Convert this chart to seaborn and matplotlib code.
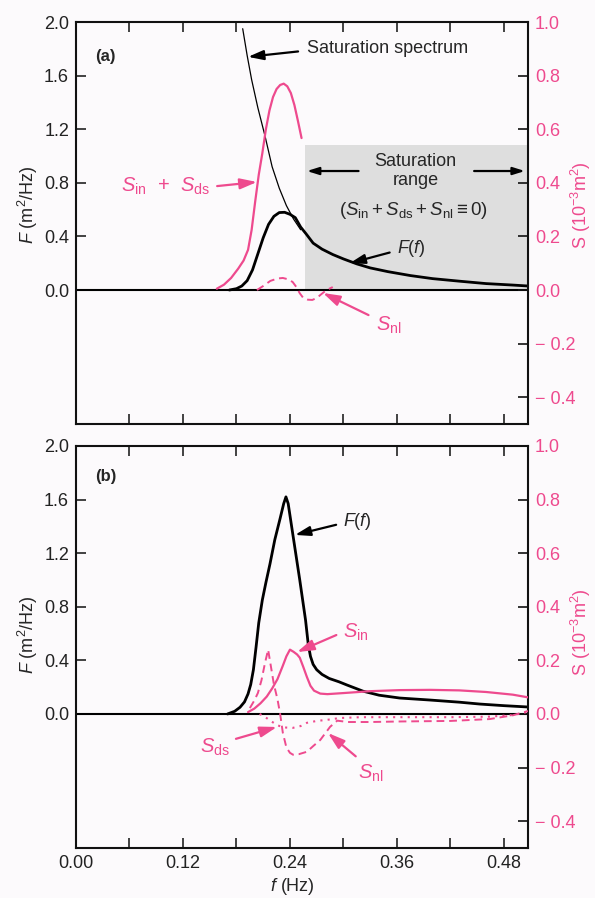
import numpy as np
import pandas as pd
import seaborn as sns
import matplotlib.pyplot as plt

PINK = '#ee4a8e'

# ---- panel (a) ----
a_sat_f = [0.187, 0.192, 0.197, 0.204, 0.212, 0.220, 0.228, 0.236, 0.244, 0.252]
a_sat_F = [1.95, 1.75, 1.57, 1.36, 1.15, 0.92, 0.76, 0.63, 0.53, 0.45]

a_F_f = [0.172, 0.180, 0.186, 0.192, 0.198, 0.204, 0.210, 0.216, 0.222, 0.228, 0.234,
         0.240, 0.246, 0.252, 0.258, 0.266, 0.276, 0.288, 0.300, 0.315, 0.330, 0.350,
         0.375, 0.400, 0.430, 0.460, 0.490, 0.507]
a_F = [0.0, 0.01, 0.03, 0.07, 0.15, 0.27, 0.39, 0.49, 0.55, 0.578, 0.58,
       0.565, 0.54, 0.47, 0.42, 0.35, 0.305, 0.265, 0.232, 0.195, 0.165, 0.137,
       0.108, 0.085, 0.066, 0.048, 0.037, 0.03]

a_sinds_f = [0.158, 0.166, 0.174, 0.182, 0.188, 0.193, 0.197, 0.201, 0.205, 0.209, 0.213,
             0.217, 0.221, 0.225, 0.229, 0.233, 0.237, 0.241, 0.245, 0.249, 0.253]
a_sinds = [0.005, 0.02, 0.045, 0.08, 0.11, 0.15, 0.224, 0.33, 0.43, 0.51, 0.60,
           0.67, 0.72, 0.75, 0.765, 0.77, 0.76, 0.735, 0.69, 0.63, 0.567]

a_snl_f = [0.203, 0.210, 0.218, 0.226, 0.232, 0.238, 0.243, 0.247, 0.251, 0.255,
           0.260, 0.265, 0.270, 0.275, 0.281, 0.288]
a_snl = [0.0, 0.015, 0.034, 0.043, 0.045, 0.04, 0.03, 0.012, -0.012, -0.03,
         -0.036, -0.037, -0.03, -0.016, 0.0, 0.011]

# ---- panel (b) ----
b_F_f = [0.170, 0.178, 0.184, 0.189, 0.193, 0.196, 0.199, 0.202, 0.205, 0.209, 0.213,
         0.2176, 0.223, 0.229, 0.233, 0.2355, 0.238, 0.243, 0.251, 0.2575, 0.2605, 0.263,
         0.266, 0.270, 0.276, 0.284, 0.295, 0.304, 0.322, 0.340, 0.363, 0.397, 0.430,
         0.453, 0.480, 0.507]
b_F = [0.0, 0.02, 0.05, 0.09, 0.15, 0.22, 0.33, 0.50, 0.68, 0.85, 0.98,
       1.12, 1.30, 1.46, 1.57, 1.62, 1.57, 1.35, 1.0, 0.70, 0.52, 0.43,
       0.37, 0.33, 0.295, 0.265, 0.24, 0.216, 0.17, 0.14, 0.119, 0.104, 0.088,
       0.074, 0.062, 0.052]

b_sin_f = [0.193, 0.200, 0.207, 0.214, 0.220, 0.226, 0.232, 0.236, 0.240, 0.244, 0.248,
           0.251, 0.255, 0.259, 0.263, 0.267, 0.274, 0.282, 0.300, 0.330, 0.363, 0.397,
           0.430, 0.460, 0.490, 0.507]
b_sin = [0.007, 0.02, 0.04, 0.065, 0.095, 0.13, 0.18, 0.215, 0.24, 0.232, 0.222,
         0.21, 0.175, 0.138, 0.105, 0.087, 0.076, 0.074, 0.078, 0.085, 0.089, 0.09,
         0.088, 0.082, 0.072, 0.062]

b_snl_f = [0.195, 0.200, 0.204, 0.208, 0.212, 0.2155, 0.219, 0.222, 0.226, 0.229, 0.232,
           0.236, 0.240, 0.2434, 0.250, 0.259, 0.266, 0.274, 0.285, 0.293, 0.305, 0.330,
           0.363, 0.420, 0.464, 0.490, 0.507]
b_snl = [0.022, 0.05, 0.078, 0.125, 0.19, 0.24, 0.17, 0.11, 0.055, 0.0, -0.07,
         -0.125, -0.145, -0.152, -0.15, -0.141, -0.12, -0.097, -0.048, -0.025, -0.03, -0.03,
         -0.028, -0.026, -0.019, -0.005, 0.011]

b_sds_f = [0.206, 0.212, 0.218, 0.2254, 0.232, 0.243, 0.252, 0.259, 0.270, 0.2815,
           0.296, 0.320, 0.363, 0.420, 0.464, 0.490, 0.507]
b_sds = [0.0, -0.011, -0.025, -0.041, -0.05, -0.052, -0.045, -0.033, -0.026, -0.022,
         -0.015, -0.012, -0.012, -0.012, -0.01, -0.004, 0.008]

# ticks
x_ticks = [0.0, 0.06, 0.12, 0.18, 0.24, 0.30, 0.36, 0.42, 0.48]
x_labels = ['0.00', '', '0.12', '', '0.24', '', '0.36', '', '0.48']
F_ticks = [0.0, 0.4, 0.8, 1.2, 1.6, 2.0]
F_labels = ['0.0', '0.4', '0.8', '1.2', '1.6', '2.0']
S_ticks = [-0.4, -0.2, 0.0, 0.2, 0.4, 0.6, 0.8, 1.0]
S_labels = ['\u2212 0.4', '\u2212 0.2', '0.0', '0.2', '0.4', '0.6', '0.8', '1.0']

sns.set_style('ticks')
plt.rcParams['font.family'] = ['Liberation Sans', 'DejaVu Sans']
plt.rcParams['mathtext.fontset'] = 'custom'
plt.rcParams['mathtext.rm'] = 'Liberation Sans'
plt.rcParams['mathtext.it'] = 'Liberation Sans:italic'
plt.rcParams['mathtext.bf'] = 'Liberation Sans:bold'

fig = plt.figure(figsize=(5.95, 8.98), dpi=100)
fig.patch.set_facecolor('#fcfafc')

arrow_k = dict(arrowstyle='-|>,head_length=0.7,head_width=0.22', color='black', lw=1.6,
               shrinkA=1, shrinkB=0)
arrow_p = dict(arrow_k, color=PINK)


def setup(ax, bottom):
    ax.set_facecolor('#fcfafc')
    ax.set_xlim(0, 0.507)
    ax.set_ylim(-1.0, 2.0)
    ax.set_xticks(x_ticks)
    ax.set_xticklabels(x_labels if bottom else [''] * len(x_ticks))
    ax.set_yticks(F_ticks)
    ax.set_yticklabels(F_labels)
    ax.tick_params(direction='in', length=7, width=1.2, top=True, right=False,
                   labelsize=13, pad=5, colors='#222222')
    for s in ax.spines.values():
        s.set_linewidth(1.5)
        s.set_color('#111111')
        s.set_visible(True)
    ax.axhline(0, color='black', lw=1.5)
    ax.set_ylabel('$F$ (m$^2$/Hz)', fontsize=13)
    ax2 = ax.twinx()
    ax2.set_ylim(-0.5, 1.0)
    ax2.set_yticks(S_ticks)
    ax2.set_yticklabels(S_labels)
    ax2.tick_params(direction='in', length=7, width=1.2, labelsize=13, pad=5,
                    labelcolor=PINK, color='#111111')
    for s in ax2.spines.values():
        s.set_visible(False)
    ax2.set_ylabel('S (10$^{-3}$m$^2$)', fontsize=13, color=PINK)
    return ax2


# ---------------- (a) ----------------
axa = fig.add_axes([0.1277, 0.5278, 0.7597, 0.4477])
axa2 = setup(axa, False)
axa.yaxis.set_label_coords(-0.08, 0.545)
axa2.yaxis.set_label_coords(1.09, 0.545)

axa.axvspan(0.257, 0.507, ymin=1/3, ymax=(1.08 + 1) / 3, color='#dedede', lw=0, zorder=0)
sns.lineplot(x=a_sat_f, y=a_sat_F, ax=axa, color='black', linewidth=0.9, estimator=None, sort=False)
sns.lineplot(x=a_F_f, y=a_F, ax=axa, color='black', linewidth=2.0, estimator=None, sort=False)
sns.lineplot(x=a_sinds_f, y=a_sinds, ax=axa2, color=PINK, linewidth=1.6, estimator=None, sort=False)
sns.lineplot(x=a_snl_f, y=a_snl, ax=axa2, color=PINK, linewidth=1.4, linestyle=(0, (4, 2.5)),
             estimator=None, sort=False)

axa.text(0.066, 0.915, '(a)', transform=axa.transAxes, fontsize=12, fontweight='bold',
         ha='center', va='center')
axa.annotate('Saturation spectrum', xy=(0.193, 1.74), xytext=(0.259, 1.80), fontsize=13,
             ha='left', va='center', arrowprops=dict(arrow_k, relpos=(0, 0.4), shrinkA=4))
axa.text(0.381, 0.888, 'Saturation\nrange', fontsize=13, ha='center', va='center',
         linespacing=1.15)
axa.annotate('', xy=(0.259, 0.888), xytext=(0.3185, 0.888), arrowprops=arrow_k)
axa.annotate('', xy=(0.5035, 0.888), xytext=(0.445, 0.888), arrowprops=arrow_k)
axa.text(0.378, 0.597, r'($S_{\rm in}+S_{\rm ds}+S_{\rm nl}\equiv$0)', fontsize=13.5,
         ha='center', va='center')
axa.annotate('$F$($f$)', xy=(0.307, 0.20), xytext=(0.36, 0.31), fontsize=13,
             ha='left', va='center', arrowprops=dict(arrow_k, relpos=(0, 0.4), shrinkA=3))
axa2.annotate(r'$S_{\rm in}$  +  $S_{\rm ds}$', xy=(0.203, 0.403), xytext=(0.15, 0.385),
              fontsize=14.5, color=PINK, ha='right', va='center',
              arrowprops=dict(arrow_p, relpos=(1, 0.5), shrinkA=3))
axa2.annotate(r'$S_{\rm nl}$', xy=(0.277, -0.011), xytext=(0.336, -0.13), fontsize=14.5,
              color=PINK, ha='left', va='center',
              arrowprops=dict(arrow_p, relpos=(0, 0.8), shrinkA=3))

# ---------------- (b) ----------------
axb = fig.add_axes([0.1277, 0.0557, 0.7597, 0.4477])
axb2 = setup(axb, True)
axb.yaxis.set_label_coords(-0.08, 0.53)
axb2.yaxis.set_label_coords(1.09, 0.537)
axb.set_xlabel('$f$ (Hz)', fontsize=13)
axb.xaxis.set_label_coords(0.478, -0.07)

sns.lineplot(x=b_F_f, y=b_F, ax=axb, color='black', linewidth=2.0, estimator=None, sort=False)
sns.lineplot(x=b_sin_f, y=b_sin, ax=axb2, color=PINK, linewidth=1.6, estimator=None, sort=False)
sns.lineplot(x=b_snl_f, y=b_snl, ax=axb2, color=PINK, linewidth=1.4, linestyle=(0, (4, 2.5)),
             estimator=None, sort=False)
sns.lineplot(x=b_sds_f, y=b_sds, ax=axb2, color=PINK, linewidth=1.5, linestyle=(0, (1, 2.5)),
             estimator=None, sort=False)

axb.text(0.066, 0.923, '(b)', transform=axb.transAxes, fontsize=12, fontweight='bold',
         ha='center', va='center')
axb.annotate('$F$($f$)', xy=(0.2456, 1.336), xytext=(0.30, 1.433), fontsize=13,
             ha='left', va='center', arrowprops=dict(arrow_k, relpos=(0, 0.45), shrinkA=3))
axb2.annotate(r'$S_{\rm in}$', xy=(0.248, 0.231), xytext=(0.30, 0.306), fontsize=14.5,
              color=PINK, ha='left', va='center',
              arrowprops=dict(arrow_p, relpos=(0, 0.5), shrinkA=3))
axb2.annotate(r'$S_{\rm ds}$', xy=(0.2254, -0.0485), xytext=(0.156, -0.123), fontsize=14.5,
              color=PINK, ha='center', va='center',
              arrowprops=dict(arrow_p, relpos=(1, 0.8), shrinkA=2))
axb2.annotate(r'$S_{\rm nl}$', xy=(0.2826, -0.071), xytext=(0.316, -0.22), fontsize=14.5,
              color=PINK, ha='left', va='center',
              arrowprops=dict(arrow_p, relpos=(0.2, 1.0), shrinkA=3))

fig.savefig('out.png', dpi=100, facecolor=fig.get_facecolor())
